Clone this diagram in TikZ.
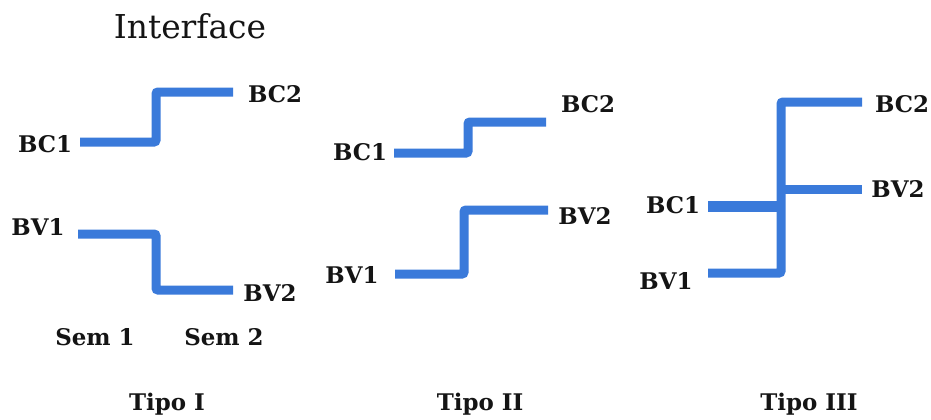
\documentclass[tikz,border=0pt]{standalone}
\usepackage{fontspec}
\setmainfont{DejaVu Serif}
\definecolor{linkblue}{RGB}{58,122,218}
\definecolor{ink}{RGB}{20,20,20}
\tikzset{
  lbl/.style={anchor=base, inner sep=0pt, text=ink, font=\fontsize{23}{27}\selectfont\bfseries},
  ttl/.style={anchor=base, inner sep=0pt, text=ink, font=\fontsize{33}{38}\selectfont},
  link/.style={draw=linkblue, line width=9bp, line cap=butt, rounded corners=2bp},
}
\begin{document}
\begin{tikzpicture}[x=1bp, y=-1bp]
\useasboundingbox (0,0) rectangle (931,419);

% title
\node[ttl] (title) at (190,38) {Interface};

% ---- Tipo I ----
\node[lbl] (a-bc1) at (45,152) {BC1};
\node[lbl] (a-bc2) at (275,102) {BC2};
\node[lbl] (a-bv1) at (38,235) {BV1};
\node[lbl] (a-bv2) at (270,301) {BV2};
\node[lbl] (sem1) at (95,345) {Sem 1};
\node[lbl] (sem2) at (224,345) {Sem 2};
\node[lbl] (tipo1) at (167,410) {Tipo I};
\coordinate (a-bc1e) at (80,142);
\coordinate (a-bc2e) at (233,92);
\coordinate (a-bv1e) at (78,234);
\coordinate (a-bv2e) at (233,290);
\draw[link] (a-bc1e) -| (156,92) -- (a-bc2e);
\draw[link] (a-bv1e) -| (156,290) -- (a-bv2e);

% ---- Tipo II ----
\node[lbl] (b-bc1) at (360,160) {BC1};
\node[lbl] (b-bc2) at (588,112) {BC2};
\node[lbl] (b-bv1) at (352,283) {BV1};
\node[lbl] (b-bv2) at (585,224) {BV2};
\node[lbl] (tipo2) at (480,410) {Tipo II};
\coordinate (b-bc1e) at (394,153);
\coordinate (b-bc2e) at (546,122);
\coordinate (b-bv1e) at (395,274);
\coordinate (b-bv2e) at (548,210);
\draw[link] (b-bc1e) -| (468,122) -- (b-bc2e);
\draw[link] (b-bv1e) -| (464,210) -- (b-bv2e);

% ---- Tipo III ----
\node[lbl] (c-bc2) at (902,112) {BC2};
\node[lbl] (c-bv2) at (898,197) {BV2};
\node[lbl] (c-bc1) at (673,213) {BC1};
\node[lbl] (c-bv1) at (666,289) {BV1};
\node[lbl] (tipo3) at (809,410) {Tipo III};
\coordinate (c-bc2e) at (862,102);
\coordinate (c-bv2e) at (862,189);
\coordinate (c-bc1e) at (708,206);
\coordinate (c-bv1e) at (708,273);
\coordinate (c-mid) at (781,189);
\coordinate (c-join) at (781,206);
\draw[link] (c-bv1e) -| (781,102) -- (c-bc2e);
\draw[link] (c-mid) -- (c-bv2e);
\draw[link, line width=11bp] (c-bc1e) -- (c-join);
\end{tikzpicture}
\end{document}
